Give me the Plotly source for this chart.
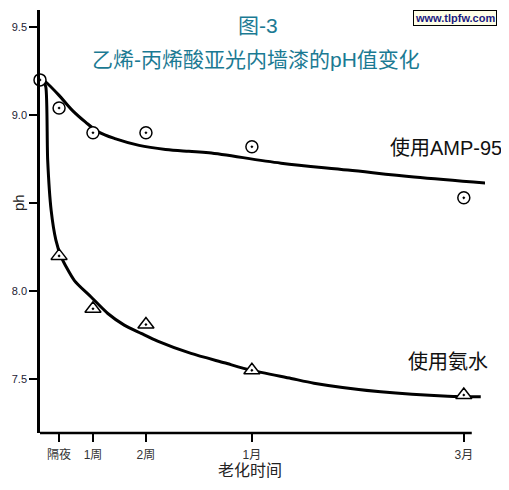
import plotly.graph_objects as go

FONT = "Liberation Sans, Arial, Noto Sans CJK SC"

# tick positions on the ageing axis (linear units as drawn)
tick_pos = [0.36, 1, 2, 4, 8]
tick_labels = ["隔夜", "1周", "2周", "1月", "3月"]

# measured points
amp_x = [0.0, 0.36, 1, 2, 4, 8]
amp_y = [9.20, 9.04, 8.90, 8.90, 8.82, 8.53]
nh3_x = [0.36, 1, 2, 4, 8]
nh3_y = [8.20, 7.90, 7.81, 7.55, 7.41]

# fitted curves
amp_fit_x = [0.06, 0.11, 0.36, 0.61, 0.86, 1.11, 1.43, 1.87, 2.37, 2.81, 3.19, 4.55, 5.81, 7.06, 8.42]
amp_fit_y = [9.20, 9.188, 9.112, 9.027, 8.960, 8.903, 8.865, 8.828, 8.805, 8.794, 8.786,
             8.727, 8.688, 8.648, 8.614]
nh3_fit_x = [0.06, 0.11, 0.145, 0.21, 0.30, 0.40, 0.65, 0.96, 1.28, 1.59, 1.91, 2.22, 2.85,
             3.48, 3.98, 4.74, 5.17, 6.43, 7.70, 8.32]
nh3_fit_y = [9.20, 9.16, 8.744, 8.46, 8.29, 8.195, 8.06, 7.968, 7.873, 7.807, 7.760, 7.716,
             7.646, 7.593, 7.551, 7.504, 7.477, 7.428, 7.403, 7.40]

fig = go.Figure()

fig.add_trace(go.Scatter(x=amp_fit_x, y=amp_fit_y, mode="lines",
                         line=dict(color="black", width=3, shape="spline", smoothing=1.0),
                         showlegend=False))
fig.add_trace(go.Scatter(x=nh3_fit_x, y=nh3_fit_y, mode="lines",
                         line=dict(color="black", width=3, shape="spline", smoothing=0.7),
                         showlegend=False))
fig.add_trace(go.Scatter(x=amp_x, y=amp_y, mode="markers",
                         marker=dict(symbol="circle-dot", size=12, color="white",
                                     line=dict(color="black", width=1.5)),
                         showlegend=False, cliponaxis=False))
fig.add_trace(go.Scatter(x=nh3_x, y=nh3_y, mode="markers",
                         marker=dict(symbol="triangle-up-dot", size=14, color="white",
                                     line=dict(color="black", width=1.5)),
                         showlegend=False, cliponaxis=False))

# bottom axis line is shorter than the plotting area
fig.add_shape(type="line", xref="x", yref="paper", x0=-0.02, x1=8.15, y0=0, y1=0,
              line=dict(color="black", width=2.5))

# the page adds an 8px body margin; keep the figure inside the window
fig.update_layout(
    width=501,
    height=474,
    margin=dict(l=32, r=24, t=2, b=49),
    paper_bgcolor="white",
    plot_bgcolor="white",
    font=dict(family=FONT, color="#222"),
    xaxis=dict(
        range=[0, 8.4],
        tickvals=tick_pos,
        ticktext=tick_labels,
        ticks="outside",
        ticklen=8,
        tickwidth=2,
        tickcolor="black",
        ticklabelstandoff=3,
        showline=False,
        showgrid=False,
        zeroline=False,
        automargin=False,
        tickfont=dict(size=12, color="#333"),
    ),
    yaxis=dict(
        range=[7.194, 9.597],
        tickvals=[7.5, 8.0, 8.5, 9.0, 9.5],
        ticktext=["7.5", "8.0", "", "9.0", "9.5"],
        ticks="outside",
        ticklen=8,
        tickwidth=2,
        tickcolor="black",
        showline=True,
        linecolor="black",
        linewidth=2.5,
        showgrid=False,
        zeroline=False,
        automargin=False,
        tickfont=dict(size=11, color="#223"),
    ),
)


# titles and labels placed in paper coordinates converted from screen pixels
def px_x(p):
    return (p - 40) / 445


def px_y(p):
    return (433 - p) / 423


def label(text, x, y, size, color, **kw):
    fig.add_annotation(text=text, x=px_x(x), y=px_y(y), xref="paper", yref="paper",
                       xanchor="center", yanchor="middle", showarrow=False,
                       font=dict(size=size, color=color, family=FONT), **kw)


label("图-3", 258, 25, 21, "#1b7a93")
label("乙烯-丙烯酸亚光内墙漆的pH值变化", 256, 60, 21, "#1b7a93")
label("使用AMP-95", 446, 148, 20, "#111")
label("使用氨水", 448, 362, 20, "#111")
label("老化时间", 250, 470, 16, "#222")
label("ph", 18, 203, 15, "#222", textangle=-90)
label("<b>www.tlpfw.com</b>", 455, 18, 11, "#1a1a80",
      bgcolor="#ffffe8", bordercolor="black", borderwidth=1, borderpad=1)

fig.write_html("out.html")
